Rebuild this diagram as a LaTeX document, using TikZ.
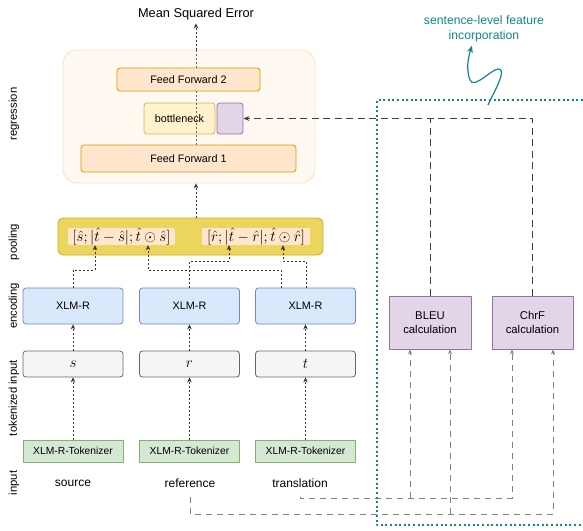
\documentclass[tikz,border=0pt]{standalone}
\usepackage{fontspec}
\setmainfont{Liberation Sans}
\usetikzlibrary{arrows.meta}
\definecolor{peachF}{HTML}{FFE6CC}
\definecolor{peachD}{HTML}{D79B00}
\definecolor{yelF}{HTML}{FFF2CC}
\definecolor{yelD}{HTML}{D6B656}
\definecolor{purF}{HTML}{E1D5E7}
\definecolor{purD}{HTML}{9673A6}
\definecolor{bluF}{HTML}{DAE8FC}
\definecolor{bluD}{HTML}{6C8EBF}
\definecolor{gryF}{HTML}{F5F5F5}
\definecolor{gryD}{HTML}{666666}
\definecolor{grnF}{HTML}{D5E8D4}
\definecolor{grnD}{HTML}{82B366}
\definecolor{poolF}{HTML}{ECD55C}
\definecolor{poolD}{HTML}{C9AE2A}
\definecolor{tealC}{HTML}{12868E}
\newcommand{\pform}[1]{\scalebox{1.25}{$#1$}}
\tikzset{
  blk/.style={draw,rounded corners=3pt,line width=0.8pt,inner sep=0pt,
    font=\fontsize{10.8}{12}\selectfont},
  ffbox/.style={blk,fill=peachF,draw=peachD,minimum height=25pt},
  encbox/.style={blk,fill=bluF,draw=bluD,minimum width=100pt,minimum height=36pt},
  tokbox/.style={blk,fill=gryF,draw=gryD,minimum width=100pt,minimum height=26pt,
    font=\fontsize{11.5}{13}\selectfont},
  tkzbox/.style={draw=grnD,fill=grnF,line width=0.8pt,minimum width=100pt,
    minimum height=22pt,inner sep=0pt,font=\fontsize{10.3}{12}\selectfont},
  metbox/.style={draw=purD,fill=purF,line width=0.8pt,minimum width=82pt,
    minimum height=53pt,align=center,font=\fontsize{11.3}{14}\selectfont},
  rowlbl/.style={rotate=90,font=\fontsize{11.3}{13}\selectfont},
  inlbl/.style={font=\fontsize{12}{14}\selectfont},
  pterm/.style={fill=peachF,rounded corners=2pt,minimum height=17pt,inner sep=0pt,
    font=\fontsize{11.5}{13}\selectfont},
  flow/.style={dash pattern=on 2pt off 2pt,line width=0.6pt,black!80,
    -{Stealth[length=5pt,width=4.5pt]}},
  inner/.style={dash pattern=on 2pt off 2pt,line width=0.6pt,black!60},
  feat/.style={dash pattern=on 7pt off 4.5pt,line width=0.8pt,black!75},
  featin/.style={dash pattern=on 6pt off 5pt,line width=0.8pt,black!50,
    -{Stealth[length=5pt,width=4pt]}},
}
\begin{document}
\begin{tikzpicture}[x=1pt,y=-1pt,line join=round,>=Stealth]
	\useasboundingbox (0,0) rectangle (583,530);
	% regression block
	\node[draw=orange!25,fill=orange!5,rounded corners=14pt,line width=0.8pt,
	  minimum width=252pt,minimum height=133pt] (regbg) at (189,116.5) {};
	\node[ffbox,minimum width=143pt,minimum height=23pt] (ffb) at (188.5,79.5) {Feed Forward 2};
	\node[blk,fill=yelF,draw=yelD,minimum width=71pt,minimum height=31pt] (bneck) at (179.5,118.5) {bottleneck};
	\node[blk,fill=purF,draw=purD,minimum width=26pt,minimum height=31pt] (featin) at (230,118.5) {};
	\node[ffbox,minimum width=215pt,minimum height=27pt] (ffa) at (188.5,158.5) {Feed Forward 1};
	\node[font=\fontsize{12.8}{14}\selectfont] (mse) at (196,14) {Mean Squared Error};
	% pooling
	\node[draw=poolD,fill=poolF,rounded corners=5pt,line width=0.8pt,
	  minimum width=265pt,minimum height=37pt] (pool) at (190.5,236.5) {};
	\node[pterm,minimum width=107pt] (poolS) at (121.5,236.5)
	  {\pform{[\hat{s};|\hat{t}-\hat{s}|;\hat{t}\odot\hat{s}]}};
	\node[pterm,minimum width=108pt] (poolR) at (256,236.5)
	  {\pform{[\hat{r};|\hat{t}-\hat{r}|;\hat{t}\odot\hat{r}]}};
	% encoders, tokens, tokenizers, inputs
	\node[encbox] (encS) at (73,306) {XLM-R};
	\node[encbox] (encR) at (189.5,306) {XLM-R};
	\node[encbox] (encT) at (305.5,306) {XLM-R};
	\node[tokbox] (tokS) at (73,364) {\pform{s}};
	\node[tokbox] (tokR) at (189.5,364) {\pform{r}};
	\node[tokbox] (tokT) at (305.5,364) {\pform{t}};
	\node[tkzbox] (tkzS) at (73,451) {XLM-R-Tokenizer};
	\node[tkzbox] (tkzR) at (189.5,451) {XLM-R-Tokenizer};
	\node[tkzbox] (tkzT) at (305.5,451) {XLM-R-Tokenizer};
	\node[inlbl] (inS) at (73,483) {source};
	\node[inlbl] (inR) at (190,483) {reference};
	\node[inlbl] (inT) at (300,483) {translation};
	% row labels
	\node[rowlbl] (lreg) at (14,114) {regression};
	\node[rowlbl] (lpool) at (14,242) {pooling};
	\node[rowlbl] (lenc) at (14,306) {encoding};
	\node[rowlbl] (ltok) at (14,398) {tokenized input};
	\node[rowlbl] (lin) at (14,483) {input};
	% metrics
	\node[metbox] (bleu) at (430,322.5) {BLEU\\calculation};
	\node[metbox,minimum width=81pt] (chrf) at (532.5,322.5) {ChrF\\calculation};
	% flow in the model
	\draw[flow] (tkzS) -- (tokS);
	\draw[flow] (tkzR) -- (tokR);
	\draw[flow] (tkzT) -- (tokT);
	\draw[flow] (tokS) -- (encS);
	\draw[flow] (tokR) -- (encR);
	\draw[flow] (tokT) -- (encT);
	\draw[flow] (encS.north) |- (95,270) -- (poolS.south -| 95,0);
	\draw[flow] (encT.north -| 281,0) |- (148,270) -- (poolS.south -| 148,0);
	\draw[flow] (encR.north) |- (229,261) -- (poolR.south -| 229,0);
	\draw[flow] (encT.north -| 306,0) |- (283,261) -- (poolR.south -| 283,0);
	\draw[flow] (pool.north -| mse) -- (regbg.south -| mse);
	\draw[inner] (ffa.north -| mse) -- (ffb.south -| mse);
	\draw[inner] (ffb.north -| mse) -- (regbg.north -| mse);
	\draw[flow] (regbg.north -| mse) -- (mse);
	% sentence-level features
	\draw[feat,-{Stealth[length=6pt,width=5pt]}] (chrf.north) |- (featin.east);
	\draw[feat] (bleu.north) -- (bleu.north |- featin.east);
	\draw[featin] (inT.south) ++(1,6) -| (300,498) -| (chrf.south -| 512,0);
	\draw[featin] (410,498) -- (bleu.south -| 410,0);
	\draw[featin] (inR.south) ++(0,6) -- (190,514) -| (chrf.south -| 553,0);
	\draw[featin] (450,514) -- (bleu.south -| 450,0);
	% incorporation region
	\draw[tealC,line width=2pt,dash pattern=on 2pt off 2.6pt] (583,100) -| (377,525) -- (583,525);
	\node[tealC,align=center,font=\fontsize{12.2}{15}\selectfont] (note) at (484,29) {sentence-level feature\\incorporation};
	\draw[tealC,line width=1.2pt,-{Stealth[length=7pt,width=6pt]}] (488,105)
	  .. controls (494,92) and (507,70) .. (499,69)
	  .. controls (492,68) and (474,90) .. (470,80)
	  .. controls (466,70) and (468,58) .. (note.south -| 472,0);
\end{tikzpicture}
\end{document}
